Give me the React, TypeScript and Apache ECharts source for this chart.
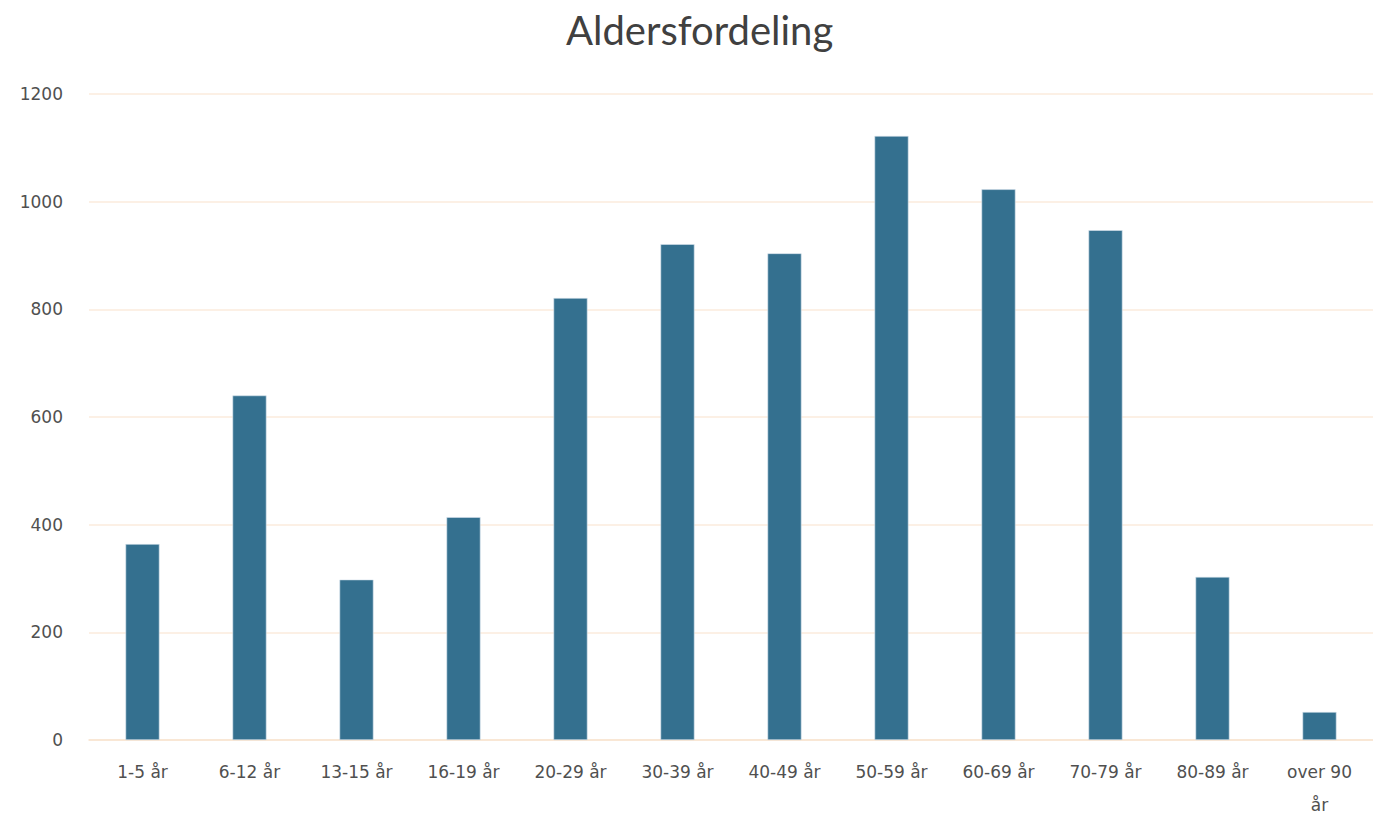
import React, { useEffect, useRef } from "react";
import * as echarts from "echarts";

const categories = ["1-5 år", "6-12 år", "13-15 år", "16-19 år", "20-29 år", "30-39 år", "40-49 år", "50-59 år", "60-69 år", "70-79 år", "80-89 år", "over 90 år"];
const values = [364, 640, 298, 414, 821, 921, 904, 1122, 1023, 947, 303, 52];
const yTicks = { min: 0, max: 1200, interval: 200 };
const title = "Aldersfordeling";

export default function App() {
  const ref = useRef<HTMLDivElement>(null);
  useEffect(() => {
    if (!ref.current) return;
    const chart = echarts.init(ref.current, undefined, { renderer: "svg" });
    chart.setOption({
      animation: false,
      backgroundColor: "#ffffff",
      title: {
        text: title,
        left: 561,
        top: 5,
        textStyle: { fontFamily: "Lato", fontSize: 40, fontWeight: "normal", color: "#404040" },
      },
      grid: { left: 89, right: -6, top: 94, bottom: 78, containLabel: false },
      xAxis: {
        type: "category",
        data: categories,
        axisLine: { lineStyle: { color: "#F8E4CF", width: 1.5 } },
        axisTick: { show: false },
        axisLabel: {
          interval: 0,
          margin: 15,
          fontFamily: "DejaVu Sans",
          fontSize: 17,
          color: "#505050",
          lineHeight: 33,
          formatter: (v: string) => (v === "over 90 år" ? "over 90\når" : v),
        },
      },
      yAxis: {
        type: "value",
        min: yTicks.min,
        max: yTicks.max,
        interval: yTicks.interval,
        axisLine: { show: false },
        axisTick: { show: false },
        splitLine: { lineStyle: { color: "#FBEBDC", width: 1.5 } },
        axisLabel: {
          margin: 26,
          fontFamily: "DejaVu Sans",
          fontSize: 17,
          color: "#505050",
          formatter: (v: number) => String(v),
        },
      },
      series: [
        {
          type: "bar",
          data: values,
          barWidth: 34,
          itemStyle: { color: "#34708F", borderColor: "#D6E3EC", borderWidth: 0.6 },
        },
      ],
    });
    return () => chart.dispose();
  }, []);
  return <div ref={ref} style={{ position: "absolute", left: 0, top: 0, width: 1373, height: 821 }} />;
}
